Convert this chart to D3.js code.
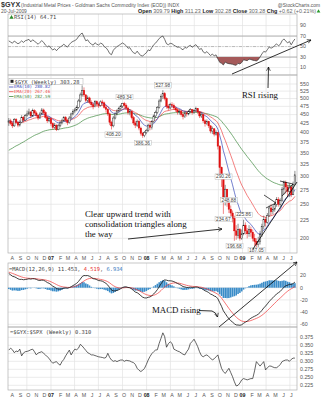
<!DOCTYPE html>
<html><head><meta charset="utf-8">
<script src="https://cdn.jsdelivr.net/npm/d3@7"></script>
<style>
html,body{margin:0;padding:0;background:#fff;}
svg{display:block;}
</style></head><body>
<svg id="c" width="322" height="400"></svg>
<script>
// ---- weekly data, $GYX (Industrial Metals), first bar week of 24-Jul-2006 ----
const firstWeek = "2006-07-24";
const firstOpen = 428;
const closes = [
 432,425,418,436,428,420, 428,442,434,447, 452,458,446,462,455, 448,440,452,464, 456,442,432,438,
 424,414,420,408,418, 426,432,441,434, 427,440,452,459, 464,472,492,512,528, 512,494,502,488,
 480,474,490,482, 478,489,486,472,466, 452,428,418,440, 452,461,468,476, 484,478,470,456,459,
 441,426,420,431, 412,398,392,400,406, 420,414,430,446, 456,472,492,506, 516,500,476,470,480,
 478,470,464,458, 460,450,444,455, 452,460,465,456,462, 468,458,446,450, 432,424,430,418,
 404,410,396,400,366, 318,300,262,276, 254,242,236,228, 210,204,212,200,206, 218,210,206,212,
 208,200,196,192, 196,205,216,226,222, 232,244,238,242, 250,258,250,256, 276,288,280,272,280,
 266,285,303.28];
const highs = [
 440,438,430,440,440,432, 434,448,446,452, 462,468,460,468,466, 460,452,458,470, 468,460,446,442,
 440,428,426,422,424, 432,438,446,446, 438,446,456,466, 470,478,498,520,545, 538,515,510,506,
 494,486,495,494, 488,494,496,490,478, 470,456,432,446, 456,466,474,480, 486,489.34,484,474,466,
 462,446,432,436, 434,416,402,404,410, 424,428,434,450, 462,476,498,514, 527.98,522,504,482,486,
 488,484,476,470, 466,464,456,460, 460,464,470,466,466, 474,470,460,456, 450,436,436,432,
 420,416,412,406,402, 368,320,290.26,284, 276,248.88,248,240, 232,218,220,214,212, 225.86,222,214,218,
 216,212,206,200, 202,210,220,232,230, 236,248,250,248, 254,262,262,260, 280,292,292,284,286,
 282,290,311.23];
const lows = [
 418,420,412,415,424,414, 416,425,428,432, 444,448,440,444,450, 442,434,438,450, 450,438,426,428,
 418,408,410,404,406, 414,422,430,428, 420,424,438,448, 454,460,468,488,506, 505,488,486,482,
 474,466,472,476, 470,474,478,468,456, 446,420,408.20,414, 436,448,456,462, 470,468,464,450,448,
 436,420,412,415, 406,392,386.36,388,396, 402,406,408,426, 440,452,468,488, 498,494,468,462,466,
 470,464,458,450, 450,444,436,440, 444,448,454,450,452, 458,452,440,440, 426,416,420,412,
 398,396,390,392,358, 302,280,234.67,248, 246,236,228,222, 196.68,198,200,197,198, 204,205,200,202,
 202,196,190,187.05, 189,192,202,212,216, 220,230,232,234, 238,246,246,246, 254,266,268,262,262,
 262,266,290];
// $GYX:$SPX weekly ratio
const ratio = [
 0.335,0.341,0.336,0.327,0.332,0.330,0.338,0.317,0.326,0.330,
 0.331,0.333,0.336,0.338,0.330,0.320,0.326,0.328,0.330,0.325,
 0.320,0.314,0.309,0.300,0.294,0.297,0.299,0.292,0.288,0.299,
 0.306,0.317,0.326,0.335,0.320,0.330,0.338,0.336,0.341,0.353,
 0.348,0.341,0.334,0.327,0.324,0.320,0.320,0.318,0.316,0.314,
 0.313,0.312,0.310,0.312,0.325,0.312,0.304,0.300,0.302,0.299,
 0.302,0.304,0.304,0.300,0.303,0.302,0.301,0.298,0.296,0.290,
 0.278,0.272,0.268,0.272,0.278,0.290,0.304,0.315,0.324,0.330,
 0.335,0.336,0.356,0.372,0.389,0.377,0.344,0.355,0.361,0.356,
 0.338,0.335,0.332,0.330,0.326,0.322,0.320,0.330,0.338,0.356,
 0.362,0.369,0.358,0.346,0.330,0.318,0.314,0.318,0.320,0.315,
 0.310,0.304,0.308,0.314,0.320,0.298,0.278,0.268,0.262,0.270,
 0.278,0.265,0.252,0.236,0.223,0.225,0.232,0.242,0.246,0.244,
 0.242,0.244,0.246,0.246,0.270,0.299,0.292,0.285,0.292,0.299,
 0.273,0.280,0.285,0.285,0.282,0.280,0.280,0.284,0.290,0.299,
 0.302,0.304,0.304,0.300,0.306,0.310,0.310];

// indicator states carried in from before the first plotted week
const emaSeeds = {e10: 433, e20: 426, e50: 353, e12: 430, e26: 405, signal: 26};
const rsiSeed = {avgGain: 9, avgLoss: 6};

// swing-point labels: [week index, value, above/below]
const swingLabels = [[84,527.98,"above"],[63,489.34,"above"],[57,408.20,"below"],[73,386.36,"below"],
 [117,290.26,"above"],[117,234.67,"below"],[120,248.88,"above"],[123,196.68,"below"],[128,225.86,"above"],[135,187.05,"below"]];

const priceTicks = [550,525,500,475,450,425,400,375,350,325,300,275,250,225,200];
const rsiTicks = [90,70,50,30,10];
const macdTicks = [20,0,-20,-40,-60];
const ratioTicks = [0.375,0.350,0.325,0.300,0.275,0.250,0.225];
const monthLetters = ["J","F","M","A","M","J","J","A","S","O","N","D"];

// ---- layout ----
const svg = d3.select("#c");
const L = 8, R = 297;
const P = {
  rsi:   {top: 14,  bottom: 75},
  price: {top: 75,  bottom: 253},
  macd:  {top: 263, bottom: 327},
  ratio: {top: 327, bottom: 390}
};
const mono = "'DejaVu Sans Mono', monospace";
const sans = "'Liberation Sans', Arial, sans-serif";
const serif = "'Liberation Serif', 'Times New Roman', serif";

const parse = d3.utcParse("%Y-%m-%d");
const t0 = parse(firstWeek);
const dates = closes.map((_, i) => d3.utcWeek.offset(t0, i));
const opens = closes.map((c, i) => i === 0 ? firstOpen : closes[i - 1]);

const x = d3.scaleUtc().domain([parse("2006-07-21"), parse("2009-07-28")]).range([L, R]);
const yRsi = d3.scaleLinear().domain([0, 100]).range([72.8, 20.3]);
const yPrice = d3.scaleLog().domain([550, 200]).range([84, 238.3]);
const yMacd = d3.scaleLinear().domain([20, -60]).range([275.5, 324.3]);
const yRatio = d3.scaleLinear().domain([0.375, 0.225]).range([337.3, 385.3]);

// ---- indicators ----
function ema(vals, period, seed) {
  const k = 2 / (period + 1); let e = seed;
  return vals.map(v => (e = e + k * (v - e)));
}
const ema10 = ema(closes, 10, emaSeeds.e10);
const ema20 = ema(closes, 20, emaSeeds.e20);
const ema50 = ema(closes, 50, emaSeeds.e50);
const ema12 = ema(closes, 12, emaSeeds.e12);
const ema26 = ema(closes, 26, emaSeeds.e26);
const macd = ema12.map((v, i) => v - ema26[i]);
const signal = ema(macd, 9, emaSeeds.signal);
const hist = macd.map((v, i) => v - signal[i]);
const rsi = (() => {
  let ag = rsiSeed.avgGain, al = rsiSeed.avgLoss, prev = firstOpen;
  return closes.map(c => {
    const ch = c - prev; prev = c;
    ag = (ag * 13 + Math.max(ch, 0)) / 14;
    al = (al * 13 + Math.max(-ch, 0)) / 14;
    return 100 - 100 / (1 + ag / al);
  });
})();

// ---- panel frames & grids ----
const quarters = d3.utcMonth.every(3).range(parse("2006-10-01"), parse("2009-07-28"));
function frame(p, ticks, yScale, fmt) {
  const g = svg.append("g");
  g.selectAll(".h").data(ticks).join("line")
    .attr("x1", L).attr("x2", R)
    .attr("y1", d => yScale(d)).attr("y2", d => yScale(d))
    .attr("stroke", "#e2e2e2").attr("stroke-width", 0.7);
  g.selectAll(".v").data(quarters).join("line")
    .attr("x1", d => x(d)).attr("x2", d => x(d))
    .attr("y1", p.top).attr("y2", p.bottom)
    .attr("stroke", "#e2e2e2").attr("stroke-width", 0.7);
  g.append("rect").attr("x", L).attr("y", p.top).attr("width", R - L).attr("height", p.bottom - p.top)
    .attr("fill", "none").attr("stroke", "#b0b0b0").attr("stroke-width", 0.7);
  g.selectAll(".lab").data(ticks).join("text")
    .attr("x", R + 3).attr("y", d => yScale(d) + 1.8)
    .attr("font-family", sans).attr("font-size", 5.3).attr("fill", "#555")
    .text(fmt);
  return g;
}
frame(P.rsi, rsiTicks, yRsi, d => d);
frame(P.price, priceTicks, yPrice, d => d);
frame(P.macd, macdTicks, yMacd, d => d);
frame(P.ratio, ratioTicks, yRatio, d3.format(".3f"));

// month axis labels
function monthAxis(yBase) {
  const months = d3.utcMonth.range(parse("2006-08-01"), parse("2009-07-28"));
  const g = svg.append("g").attr("font-family", sans).attr("font-size", 5.3).attr("fill", "#555");
  months.forEach(m => {
    const jan = m.getUTCMonth() === 0;
    g.append("text").attr("x", x(m) + (jan ? 0 : 1.5)).attr("y", yBase).attr("text-anchor", "middle")
      .attr("font-weight", jan ? "bold" : "normal").attr("fill", jan ? "#222" : "#555")
      .text(jan ? d3.utcFormat("%y")(m) : monthLetters[m.getUTCMonth()]);
  });
}
monthAxis(259.6);
monthAxis(397);

// ---- RSI ----
const rsiG = svg.append("g");
rsiG.append("line").attr("x1", L).attr("x2", R).attr("y1", yRsi(70)).attr("y2", yRsi(70)).attr("stroke", "#999").attr("stroke-width", 0.7);
rsiG.append("line").attr("x1", L).attr("x2", R).attr("y1", yRsi(30)).attr("y2", yRsi(30)).attr("stroke", "#999").attr("stroke-width", 0.7);
rsiG.append("line").attr("x1", L).attr("x2", R).attr("y1", yRsi(50)).attr("y2", yRsi(50)).attr("stroke", "#999").attr("stroke-width", 0.6).attr("stroke-dasharray", "3,1.5,1,1.5");
rsiG.append("path").datum(rsi)
  .attr("d", d3.area().x((d, i) => x(dates[i])).y0(yRsi(30)).y1(d => yRsi(Math.min(d, 30))))
  .attr("fill", "#a55a5a");
rsiG.append("path").datum(rsi)
  .attr("d", d3.line().x((d, i) => x(dates[i])).y(d => yRsi(d)))
  .attr("fill", "none").attr("stroke", "#333").attr("stroke-width", 0.7);
svg.append("path").attr("d", d3.symbol(d3.symbolTriangle, 8)()).attr("transform", "translate(11.5,17.6)").attr("fill", "#2a8a2a");
svg.append("text").attr("x", 14).attr("y", 19.4).attr("font-family", mono).attr("font-size", 5.4).attr("fill", "#444").text("RSI(14) 64.71");

// ---- Price ----
const priceG = svg.append("g");
const emaLine = d3.line().x((d, i) => x(dates[i])).y(d => yPrice(d));
[[ema50, "#3f8a3f"], [ema20, "#ee4848"], [ema10, "#3748b8"]].forEach(([s, c]) =>
  priceG.append("path").datum(s).attr("d", emaLine).attr("fill", "none").attr("stroke", c).attr("stroke-width", 0.7));
const bw = 1.5;
closes.forEach((c, i) => {
  const o = opens[i], down = c < o, col = down ? "#e01010" : "#222";
  const cx = x(dates[i]);
  priceG.append("line").attr("x1", cx).attr("x2", cx).attr("y1", yPrice(highs[i])).attr("y2", yPrice(lows[i]))
    .attr("stroke", col).attr("stroke-width", 0.5);
  const yt = yPrice(Math.max(o, c)), yb = yPrice(Math.min(o, c));
  priceG.append("rect").attr("x", cx - bw / 2).attr("y", yt).attr("width", bw).attr("height", Math.max(yb - yt, 0.6))
    .attr("fill", down ? "#e01010" : "#fff").attr("stroke", col).attr("stroke-width", 0.45);
});
// swing-point value tags
swingLabels.forEach(([i, v, pos]) => {
  const cx = x(dates[i]);
  const cy = pos === "above" ? yPrice(v) - 5 : Math.min(yPrice(v) + 5, P.price.bottom - 3);
  const t = priceG.append("text").attr("x", cx).attr("y", cy + 1.7).attr("text-anchor", "middle")
    .attr("font-family", sans).attr("font-size", 4.8).attr("fill", "#444").text(d3.format(".2f")(v));
  const bb = t.node().getBBox();
  priceG.insert("rect", "text").attr("x", bb.x - 1).attr("y", cy - 2.6).attr("width", bb.width + 2).attr("height", 5.4)
    .attr("fill", "#fff").attr("stroke", "#aaa").attr("stroke-width", 0.4);
});
// legend
const lg = svg.append("g").attr("font-family", mono).attr("fill", "#444");
lg.append("rect").attr("x", 9).attr("y", 78.3).attr("width", 74).attr("height", 6.4).attr("fill", "#fff").attr("stroke", "#999").attr("stroke-width", 0.4);
lg.append("rect").attr("x", 10.5).attr("y", 79.8).attr("width", 3).attr("height", 3).attr("fill", "#222");
lg.append("text").attr("x", 14.5).attr("y", 83.6).attr("font-size", 5.4).text("$GYX (Weekly) 303.28");
[["EMA(10) 280.82", "#3748b8", 88.3], ["EMA(20) 267.46", "#ee4848", 93.0], ["EMA(50) 282.59", "#3f8a3f", 97.8]].forEach(([t, c, yy]) => {
  lg.append("line").attr("x1", 9).attr("x2", 13.5).attr("y1", yy - 1.3).attr("y2", yy - 1.3).attr("stroke", c).attr("stroke-width", 0.8);
  lg.append("text").attr("x", 14).attr("y", yy).attr("font-size", 4.3).attr("fill", c).text(t);
});

// ---- MACD ----
const macdG = svg.append("g");
macdG.selectAll("rect").data(hist).join("rect")
  .attr("x", (d, i) => x(dates[i]) - 0.8).attr("width", 1.6)
  .attr("y", d => Math.min(yMacd(d), yMacd(0))).attr("height", d => Math.abs(yMacd(d) - yMacd(0)))
  .attr("fill", "#3a8cc8");
macdG.append("path").datum(signal).attr("d", d3.line().x((d, i) => x(dates[i])).y(d => yMacd(d)))
  .attr("fill", "none").attr("stroke", "#f03a3a").attr("stroke-width", 0.7);
macdG.append("path").datum(macd).attr("d", d3.line().x((d, i) => x(dates[i])).y(d => yMacd(d)))
  .attr("fill", "none").attr("stroke", "#111").attr("stroke-width", 0.8);
const mt = svg.append("text").attr("x", 9).attr("y", 270.6).attr("font-family", mono).attr("font-size", 5.4).attr("fill", "#444");
mt.append("tspan").text("=MACD(12,26,9) 11.453, ");
mt.append("tspan").attr("fill", "#e83030").text("4.519");
mt.append("tspan").text(", ");
mt.append("tspan").attr("fill", "#3a7cc0").text("6.934");

// ---- Ratio ----
svg.append("path").datum(ratio).attr("d", d3.line().x((d, i) => x(dates[i])).y(d => yRatio(d)))
  .attr("fill", "none").attr("stroke", "#222").attr("stroke-width", 0.7);
svg.append("text").attr("x", 10).attr("y", 334.2).attr("font-family", mono).attr("font-size", 5.4).attr("fill", "#444")
  .text("=$GYX:$SPX (Weekly) 0.310");

// ---- header ----
const hd = svg.append("g").attr("font-family", sans).attr("fill", "#333");
hd.append("text").attr("x", 1).attr("y", 7).attr("font-size", 7.2).attr("font-weight", "bold").text("$GYX");
hd.append("text").attr("x", 21).attr("y", 6.6).attr("font-size", 4.9).attr("fill", "#555")
  .text("(Industrial Metal Prices - Goldman Sachs Commodity Index (EOD)) INDX");
hd.append("text").attr("x", 320).attr("y", 6.6).attr("text-anchor", "end").attr("font-size", 4.9).attr("fill", "#555").text("@StockCharts.com");
hd.append("text").attr("x", 1).attr("y", 12.8).attr("font-size", 4.9).attr("fill", "#555").text("20-Jul-2009");
const q = hd.append("text").attr("x", 316).attr("y", 12.8).attr("text-anchor", "end").attr("font-size", 5.4);
[["Open", "309.79"], ["High", "311.23"], ["Low", "302.28"], ["Close", "303.28"], ["Chg", "+0.62 (+0.21%)"]].forEach(([k, v]) => {
  q.append("tspan").attr("font-weight", "bold").attr("fill", "#222").text(k + " ");
  q.append("tspan").attr("fill", "#666").text(v + " ");
});
hd.append("path").attr("d", d3.symbol(d3.symbolTriangle, 6)()).attr("transform", "translate(318.5,11.3)").attr("fill", "#2a9a2a");

// ---- hand-drawn notes ----
const defs = svg.append("defs");
defs.append("marker").attr("id", "ah").attr("viewBox", "0 0 10 10").attr("refX", 9).attr("refY", 5)
  .attr("markerWidth", 6).attr("markerHeight", 6).attr("orient", "auto-start-reverse")
  .append("path").attr("d", "M1,1 L9,5 L1,9").attr("fill", "none").attr("stroke", "#000").attr("stroke-width", 1.3);
const notes = svg.append("g").attr("stroke", "#000").attr("fill", "none").attr("stroke-width", 0.8);
notes.append("line").attr("x1", 232).attr("y1", 74).attr("x2", 311).attr("y2", 40).attr("marker-end", "url(#ah)");
notes.append("line").attr("x1", 268).attr("y1", 88).attr("x2", 268.5).attr("y2", 67).attr("marker-end", "url(#ah)");
notes.append("line").attr("x1", 253).attr("y1", 249).attr("x2", 297).attr("y2", 182);
// consolidation triangles
notes.append("path").attr("d", "M264,195 L276,203 M266,208 L276,203").attr("stroke-width", 0.7);
notes.append("path").attr("d", "M280,181 L293,184 M282,196 L293,184").attr("stroke-width", 0.7);
notes.append("line").attr("x1", 128).attr("y1", 239).attr("x2", 222).attr("y2", 229).attr("marker-end", "url(#ah)");
notes.append("path").attr("d", "M199,310.5 L212,311 Q216,312 217.5,317").attr("marker-end", "url(#ah)");
notes.append("line").attr("x1", 219).attr("y1", 327).attr("x2", 297).attr("y2", 262).attr("marker-end", "url(#ah)");
const nt = svg.append("g").attr("font-family", serif).attr("font-size", 8.8).attr("fill", "#111");
nt.append("text").attr("x", 242).attr("y", 98).text("RSI rising");
nt.append("text").attr("x", 85).attr("y", 217).text("Clear upward trend with");
nt.append("text").attr("x", 85).attr("y", 227).text("consolidation triangles along");
nt.append("text").attr("x", 85).attr("y", 237).text("the way");
nt.append("text").attr("x", 152).attr("y", 313).text("MACD rising");
</script>
</body></html>
